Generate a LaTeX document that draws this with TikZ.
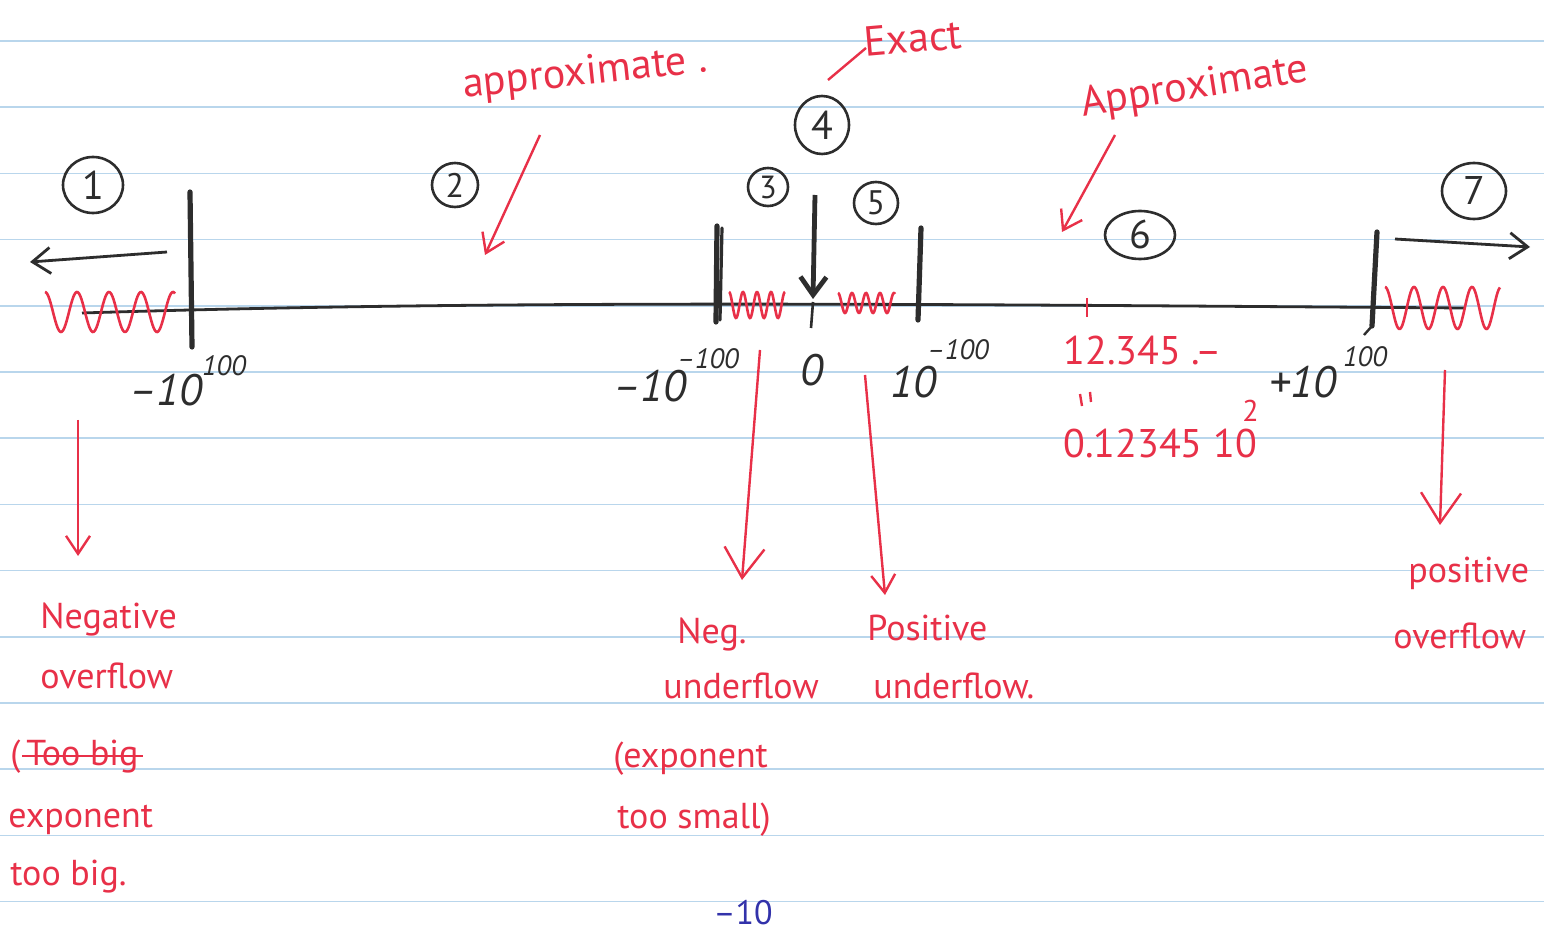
\documentclass[tikz,border=0pt]{standalone}
\usepackage{fontspec}
\setmainfont{PT Sans}
\usetikzlibrary{arrows.meta,shapes.geometric}
\definecolor{ink}{RGB}{45,45,45}
\definecolor{pen}{RGB}{232,48,72}
\definecolor{rulecol}{RGB}{185,214,236}
\definecolor{blueink}{RGB}{50,50,170}
\begin{document}
\begin{tikzpicture}[x=0.5pt,y=-0.5pt,
  hand/.style={font=\fontsize{18}{22}\selectfont, text=pen, inner sep=0pt, anchor=base west},
  handtop/.style={font=\fontsize{21}{24}\selectfont, text=pen, inner sep=0pt},
  ticklbl/.style={font=\fontsize{22}{24}\selectfont\itshape, text=ink, inner sep=0pt},
  suplbl/.style={font=\fontsize{14}{16}\selectfont\itshape, text=ink, inner sep=0pt},
  circ/.style={draw=ink, ellipse, line width=1.3pt, inner sep=0pt, text=ink, font=\fontsize{20}{24}\selectfont},
  bar/.style={draw=ink, line width=2.6pt, line cap=round},
  axisline/.style={draw=ink, line width=1.4pt},
  inkarrow/.style={draw=ink, line width=1.4pt, -{Straight Barb[length=9pt,width=13pt,line width=1.4pt]}},
  parr/.style={draw=pen, line width=1.2pt, -{Straight Barb[length=9pt,width=12pt,line width=1.2pt]}},
  parrbig/.style={draw=pen, line width=1.2pt, -{Straight Barb[length=15pt,width=20pt,line width=1.2pt]}},
  squig/.style={draw=pen, line width=1.3pt}]
\useasboundingbox (0,0) rectangle (1544,936);
\fill[white] (0,0) rectangle (1544,936);
% ruled notebook lines
\foreach \k in {0,...,13}
  \draw[rulecol, line width=0.8pt] (0,{41+66.2*\k}) -- (1544,{41+66.2*\k});

% axis
\coordinate (axL) at (82,313);
\coordinate (axR) at (1465,308);
\draw[axisline] (axL) .. controls (500,300) and (900,304) .. (axR);

% red squiggles (overflow / underflow regions)
\draw[squig] plot[domain=45:175, samples=140, smooth] (\x,{312-20*cos(11.25*(\x-45))});
\draw[squig] plot[domain=729:785, samples=100, smooth] (\x,{305-13*cos(25.714*(\x-729))});
\draw[squig] plot[domain=838:895, samples=100, smooth] (\x,{303-10*cos(25.714*(\x-838))});
\draw[squig] plot[domain=1385:1500, samples=140, smooth] (\x,{308-21*cos(12.414*(\x-1385))});

% bars
\coordinate (b1t) at (190,192); \coordinate (b1b) at (192,347);
\draw[bar] (b1t) -- (b1b);
\coordinate (b2t) at (717,226); \coordinate (b2b) at (716,322);
\coordinate (b2t') at (722,228); \coordinate (b2b') at (720,320);
\draw[bar] (b2t) -- (b2b);
\draw[bar, line width=1.6pt] (b2t') -- (b2b');
\coordinate (b3t) at (921,228); \coordinate (b3b) at (918,320);
\draw[bar] (b3t) -- (b3b);
\coordinate (b4t) at (1377,232); \coordinate (b4b) at (1372,326);
\draw[bar] (b4t) -- (b4b);
\coordinate (b4f) at (1364,335);
\draw[ink, line width=1.2pt] (b4b) -- (b4f);
% zero arrow and tick
\coordinate (zt) at (815,195); \coordinate (zb) at (813,299);
\draw[draw=ink, line width=2.4pt, -{Straight Barb[length=9pt,width=13pt,line width=2.4pt]}] (zt) -- (zb);
\coordinate (z1) at (813,302); \coordinate (z2) at (811,328);
\draw[ink, line width=1.3pt] (z1) -- (z2);
% red tick at 6
\coordinate (r1) at (1087,298); \coordinate (r2) at (1087,317);
\draw[pen, line width=1.3pt] (r1) -- (r2);

% direction arrows
\coordinate (la1) at (167,252); \coordinate (la2) at (30,262);
\draw[inkarrow] (la1) -- (la2);
\coordinate (ra1) at (1395,239); \coordinate (ra2) at (1530,247);
\draw[inkarrow] (ra1) -- (ra2);

% circled numbers
\node[circ, minimum width=30pt, minimum height=28pt] (c1) at (93,185) {1};
\node[circ, minimum width=23pt, minimum height=22pt, font=\fontsize{17}{20}\selectfont] (c2) at (455,185) {2};
\node[circ, minimum width=20pt, minimum height=19pt, font=\fontsize{16}{20}\selectfont] (c3) at (768,187) {3};
\node[circ, minimum width=27pt, minimum height=29pt] (c4) at (822,125) {4};
\node[circ, minimum width=22pt, minimum height=21pt, font=\fontsize{17}{20}\selectfont] (c5) at (876,203) {5};
\node[circ, minimum width=35pt, minimum height=24pt] (c6) at (1140,235) {6};
\node[circ, minimum width=32pt, minimum height=28pt] (c7) at (1474,191) {7};

% tick labels
\node[ticklbl] (l1) at (166,390) {–10};
\node[suplbl] (l1s) at (224,366) {100};
\node[ticklbl] (l2) at (650,386) {–10};
\node[suplbl] (l2s) at (708,359) {–100};
\node[ticklbl] (l3) at (812,370) {0};
\node[ticklbl] (l4) at (913,382) {10};
\node[suplbl] (l4s) at (958,350) {–100};
\node[ticklbl] (l5) at (1303,382) {+10};
\node[suplbl] (l5s) at (1365,357) {100};

% top annotations
\node[handtop, rotate=6] (ap1) at (585,74) {approximate .};
\node[handtop, rotate=5] (ex) at (913,38) {Exact};
\node[handtop, rotate=9] (ap2) at (1195,88) {Approximate};
\coordinate (ex1) at (866,48); \coordinate (ex2) at (828,80);
\draw[pen, line width=1.2pt] (ex1) -- (ex2);
\coordinate (ap1s) at (540,135); \coordinate (ap1e) at (485,255);
\draw[parr] (ap1s) -- (ap1e);
\coordinate (ap2s) at (1115,135); \coordinate (ap2e) at (1062,232);
\draw[parr] (ap2s) -- (ap2e);

% numbers in region 6
\node[hand, font=\fontsize{20}{24}\selectfont] (n1) at (1063,365) {12.345 .–};
\coordinate (d1a) at (1080,394); \coordinate (d1b) at (1082,406);
\coordinate (d2a) at (1090,392); \coordinate (d2b) at (1091,402);
\draw[pen, line width=1.2pt] (d1a) -- (d1b);
\draw[pen, line width=1.2pt] (d2a) -- (d2b);
\node[hand, font=\fontsize{20}{24}\selectfont] (n2) at (1063,458) {0.12345 10};
\node[hand, font=\fontsize{15}{18}\selectfont] (n2s) at (1242,422) {2};

% down arrows to explanations
\coordinate (a1s) at (78,420); \coordinate (a1e) at (78,556);
\draw[parr] (a1s) -- (a1e);
\coordinate (a2s) at (760,350); \coordinate (a2e) at (742,580);
\draw[parrbig] (a2s) -- (a2e);
\coordinate (a3s) at (865,375); \coordinate (a3e) at (885,595);
\draw[parr] (a3s) -- (a3e);
\coordinate (a4s) at (1445,370); \coordinate (a4e) at (1440,525);
\draw[parrbig] (a4s) -- (a4e);

% explanations
\node[hand] (no1) at (40,628) {Negative};
\node[hand] (no2) at (40,688) {overflow};
\node[hand] (tb1) at (10,765) {(\,Too big};
\draw[pen, line width=1.2pt] ([xshift=6pt]tb1.west) -- ([xshift=2pt]tb1.east);
\node[hand] (tb2) at (8,827) {exponent};
\node[hand] (tb3) at (10,885) {too big.};

\node[hand] (nu1) at (677,643) {Neg.};
\node[hand] (nu2) at (663,698) {underflow};
\node[hand] (es1) at (613,767) {(exponent};
\node[hand] (es2) at (617,828) {too small)};

\node[hand] (pu1) at (867,640) {Positive};
\node[hand] (pu2) at (873,698) {underflow.};

\node[hand] (po1) at (1408,582) {positive};
\node[hand] (po2) at (1393,648) {overflow};

% blue note at bottom
\node[font=\fontsize{17}{20}\selectfont, text=blueink, inner sep=0pt] (bl) at (743,913) {–10};
\end{tikzpicture}
\end{document}
